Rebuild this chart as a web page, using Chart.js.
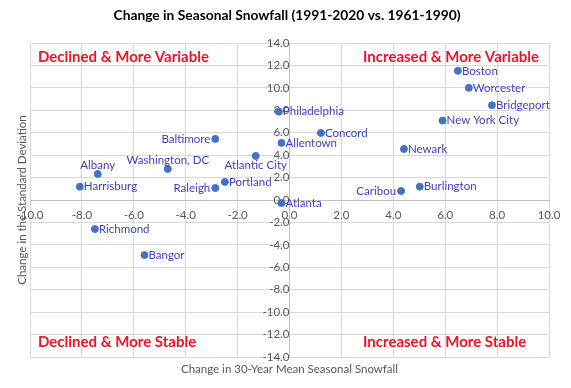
<!DOCTYPE html>
<html><head><meta charset="utf-8">
<script src="https://cdn.jsdelivr.net/npm/chart.js@4/dist/chart.umd.min.js"></script>
<style>html,body{margin:0;padding:0;background:#fff}</style>
</head><body>
<canvas id="c" width="571" height="388"></canvas>
<script>
const cities = ["Boston","Worcester","Bridgeport","New York City","Philadelphia","Concord","Allentown","Baltimore","Newark","Atlantic City","Washington, DC","Albany","Portland","Harrisburg","Burlington","Raleigh","Caribou","Atlanta","Richmond","Bangor"];
const meanChange = [6.49, 6.91, 7.80, 5.90, -0.41, 1.21, -0.31, -2.86, 4.41, -1.30, -4.69, -7.39, -2.49, -8.08, 5.02, -2.86, 4.30, -0.31, -7.50, -5.59];
const sdChange =   [11.52, 10.0, 8.45, 7.08, 7.88, 5.98, 5.09, 5.45, 4.55, 3.93, 2.77, 2.32, 1.61, 1.19, 1.19, 1.07, 0.80, -0.27, -2.59, -4.91];
const labelSides = ["right","right","right","right","right","right","right","left","right","below","above","above","right","right","right","left","left","right","right","right"];
const xRange = [-10, 10];
const yRange = [-14, 14];
const tickStep = 2;
const chartTitle = "Change in Seasonal Snowfall (1991-2020 vs. 1961-1990)";
const xTitle = "Change in 30-Year Mean Seasonal Snowfall";
const yTitle = "Change in the Standard Deviation";
const quadrants = ["Declined & More Variable","Increased & More Variable","Declined & More Stable","Increased & More Stable"];

const FONT = "Lato, 'Liberation Sans', sans-serif";
const points = meanChange.map((x,i)=>({x:x, y:sdChange[i]}));

const decor = {
  id:'decor',
  afterDatasetsDraw(chart){
    const ctx = chart.ctx;
    const meta = chart.getDatasetMeta(0);
    ctx.save();
    ctx.font = "11.5px " + FONT;
    ctx.fillStyle = "#3F3FC4";
    meta.data.forEach((pt,i)=>{
      const side = labelSides[i];
      let x = pt.x, y = pt.y;
      ctx.textBaseline = 'middle';
      if (side==='right'){ctx.textAlign='left'; x+=4;}
      else if (side==='left'){ctx.textAlign='right'; x-=5;}
      else if (side==='above'){ctx.textAlign='center'; y-=9;}
      else {ctx.textAlign='center'; y+=9;}
      ctx.fillText(cities[i], x, y);
    });
    ctx.restore();
  },
  afterDraw(chart){
    const ctx = chart.ctx; const a = chart.chartArea;
    ctx.save();
    ctx.fillStyle = "#000";
    ctx.font = "bold 13.8px " + FONT;
    ctx.textAlign='center'; ctx.textBaseline='middle';
    ctx.fillText(chartTitle, 287, 16);
    ctx.fillStyle = "#595959";
    ctx.font = "11.5px " + FONT;
    ctx.fillText(xTitle, (a.left+a.right)/2, 369);
    ctx.save();
    ctx.translate(22, (a.top+a.bottom)/2);
    ctx.rotate(-Math.PI/2);
    ctx.fillText(yTitle, 0, 0);
    ctx.restore();
    ctx.fillStyle = "#F01428";
    ctx.font = "bold 15px " + FONT;
    ctx.textAlign='left';
    ctx.fillText(quadrants[0], a.left+8, a.top+14);
    ctx.fillText(quadrants[2], a.left+8, a.bottom-15);
    ctx.fillText(quadrants[1], a.left+333, a.top+14);
    ctx.fillText(quadrants[3], a.left+333, a.bottom-15);
    ctx.restore();
  }
};

new Chart(document.getElementById('c'), {
  type:'scatter',
  data:{datasets:[{data:points, backgroundColor:'#4472C4', borderColor:'#4472C4', pointRadius:3.5, pointHoverRadius:3.5}]},
  options:{
    responsive:false, devicePixelRatio:1, animation:false,
    layout:{padding:{left:30, right:22, top:43, bottom:31}},
    plugins:{legend:{display:false}, tooltip:{enabled:false}},
    scales:{
      x:{type:'linear', min:xRange[0], max:xRange[1], position:{y:0},
         ticks:{stepSize:tickStep, color:'#595959', font:{size:11.5, family:FONT}, padding:8, maxRotation:0, callback:v=>v.toFixed(1)},
         grid:{color:'#D9D9D9', drawTicks:false}, border:{display:true, color:'#BFBFBF'}},
      y:{type:'linear', min:yRange[0], max:yRange[1], position:{x:0},
         ticks:{stepSize:tickStep, color:'#595959', font:{size:11.5, family:FONT}, padding:9, callback:v=>v.toFixed(1)},
         grid:{color:'#D9D9D9', drawTicks:false}, border:{display:true, color:'#BFBFBF'}}
    }
  },
  plugins:[decor]
});
</script>
</body></html>
